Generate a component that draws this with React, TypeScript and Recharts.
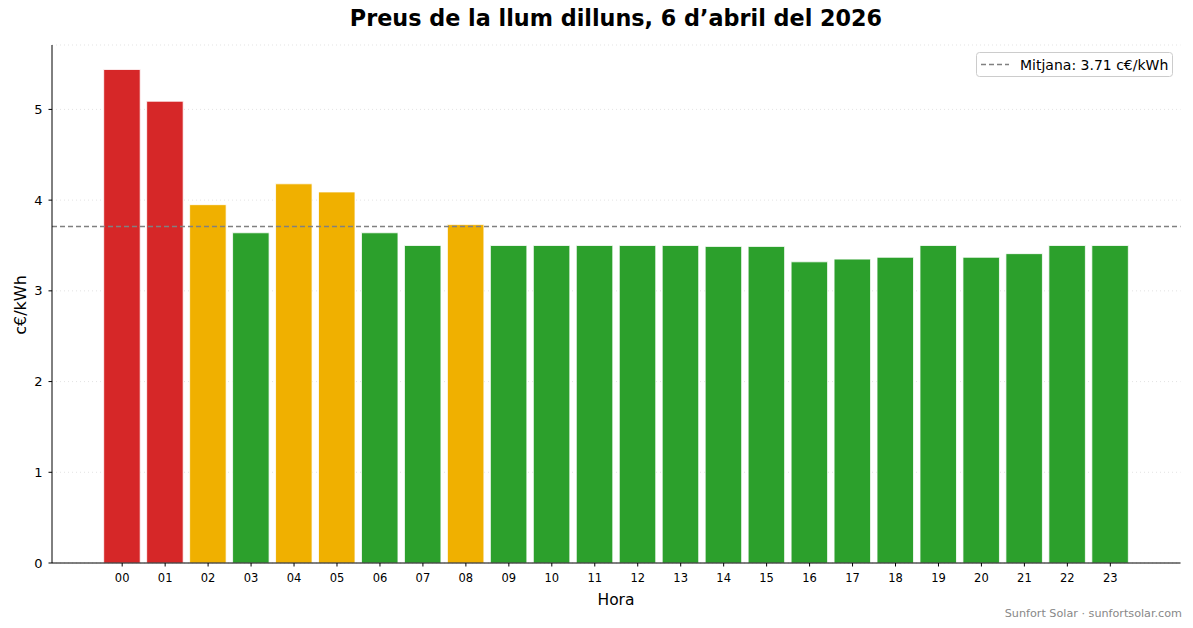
import { Bar, BarChart, CartesianGrid, Cell, ReferenceLine, XAxis, YAxis } from "recharts";

const hours = ["00", "01", "02", "03", "04", "05", "06", "07", "08", "09", "10", "11", "12", "13", "14", "15", "16", "17", "18", "19", "20", "21", "22", "23"];
const prices = [5.44, 5.09, 3.95, 3.64, 4.18, 4.09, 3.64, 3.5, 3.73, 3.5, 3.5, 3.5, 3.5, 3.5, 3.49, 3.49, 3.32, 3.35, 3.37, 3.5, 3.37, 3.41, 3.5, 3.5];
const levels = ["high", "high", "mid", "low", "mid", "mid", "low", "low", "mid", "low", "low", "low", "low", "low", "low", "low", "low", "low", "low", "low", "low", "low", "low", "low"];
const yTicks = [0, 1, 2, 3, 4, 5];
const MEAN = 3.71;

const LEVEL_COLORS: Record<string, string> = { high: "#d62728", mid: "#f0b000", low: "#2ca02c" };
const FONT = "'DejaVu Sans', sans-serif";

const W = 1193;
const H = 628;

export default function App() {
  const data = hours.map((hour, i) => ({ hour, price: prices[i], level: levels[i] }));

  return (
    <div style={{ position: "absolute", left: 0, top: 0, width: W, height: H, background: "#fff", fontFamily: FONT }}>
      <BarChart width={W} height={H} data={data} margin={{ top: 45, right: 12.5, bottom: 0, left: 0 }}>
        <CartesianGrid vertical={false} stroke="#dcdcdc" strokeDasharray="1 3" strokeWidth={0.8} />
        <XAxis
          dataKey="hour"
          height={65}
          padding={{ left: 48.7, right: 48.7 }}
          tick={{ fontSize: 11.5, fill: "#000", fontFamily: FONT }}
          tickSize={3.5}
          tickMargin={7.5}
          tickLine={{ stroke: "#000" }}
          axisLine={{ stroke: "#000", strokeWidth: 1 }}
          interval={0}
        />
        <YAxis
          width={52}
          domain={[0, 5.71]}
          ticks={yTicks}
          tick={{ fontSize: 13, fill: "#000", fontFamily: FONT }}
          tickSize={3.5}
          tickMargin={6}
          tickLine={{ stroke: "#000" }}
          axisLine={{ stroke: "#000", strokeWidth: 1 }}
          allowDataOverflow
        />
        <Bar dataKey="price" barSize={36.5} stroke="#fff" strokeWidth={0.8} isAnimationActive={false}>
          {data.map((d) => (
            <Cell key={d.hour} fill={LEVEL_COLORS[d.level]} />
          ))}
        </Bar>
        <ReferenceLine y={MEAN} stroke="#808080" strokeDasharray="5 3" strokeWidth={1.5} />
      </BarChart>

      <svg width={W} height={H} style={{ position: "absolute", left: 0, top: 0, pointerEvents: "none" }}>
        <text x={616} y={26} textAnchor="middle" fontSize={22.3} fontWeight="bold" fontFamily={FONT} fill="#000">
          Preus de la llum dilluns, 6 d’abril del 2026
        </text>
        <text x={616} y={605} textAnchor="middle" fontSize={15.5} fontFamily={FONT} fill="#000">
          Hora
        </text>
        <text transform="translate(26,305) rotate(-90)" textAnchor="middle" fontSize={16} fontFamily={FONT} fill="#000">
          c€/kWh
        </text>
        <text x={1182} y={617} textAnchor="end" fontSize={11.2} fontFamily={FONT} fill="#888">
          Sunfort Solar · sunfortsolar.com
        </text>
        <rect x={976.5} y={52.5} width={196} height={24} rx={3} fill="#fff" fillOpacity={0.8} stroke="#cccccc" />
        <line x1={981} x2={1009} y1={64.5} y2={64.5} stroke="#808080" strokeDasharray="5 3" strokeWidth={1.5} />
        <text x={1020} y={69.5} fontSize={14} fontFamily={FONT} fill="#000">
          Mitjana: 3.71 c€/kWh
        </text>
      </svg>
    </div>
  );
}
